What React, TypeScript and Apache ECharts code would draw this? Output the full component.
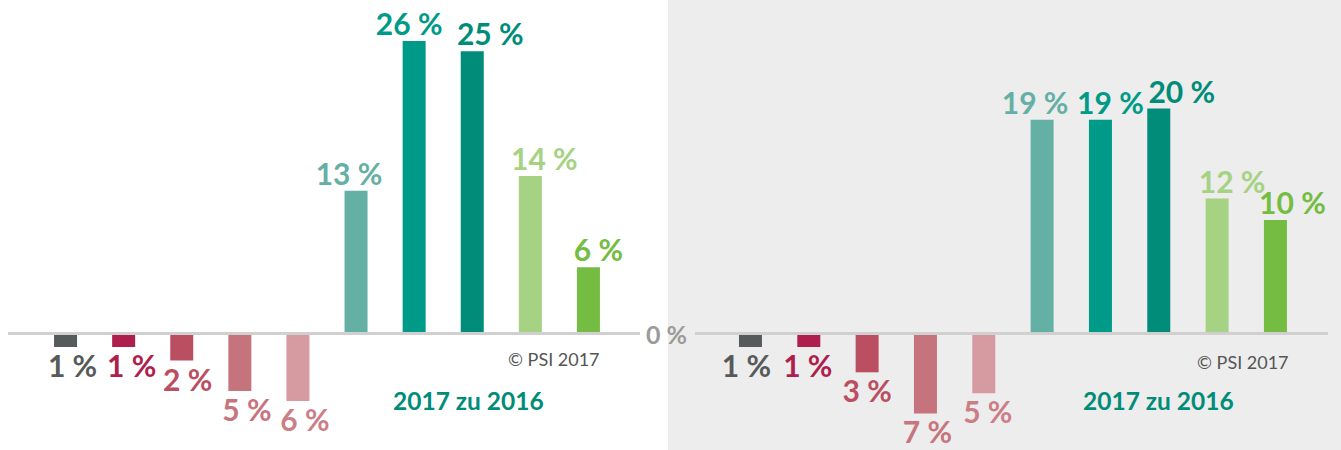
import React, { useEffect, useRef } from "react";
import * as echarts from "echarts";

const categories = ["A", "B", "C", "D", "E", "F", "G", "H", "I", "J"];
const leftValues = [-1.2, -1.2, -2.4, -5.1, -6.0, 12.7, 26.0, 25.1, 14.0, 5.9];
const rightValues = [-1.2, -1.2, -3.45, -7.1, -5.3, 19.0, 19.0, 20.0, 12.0, 10.1];
const barColors = ["#575a5a", "#ae1f4e", "#bb4f62", "#c5737d", "#d69ba0", "#65b0a4", "#009a88", "#008c78", "#a5d283", "#74bd42"];
const labelColors = ["#575a5a", "#ae1f4e", "#bb4f62", "#c8747e", "#cc7e87", "#65b0a4", "#009a88", "#008c78", "#a5d283", "#74bd42"];
const leftLabelDx = [7, 8, 6, 7, 7, -7, -5, 18, 14, 10];
const rightLabelDx = [-4, -1, 0, 2, 4, -7, 10, 23, 15, 17];
const zeroLabel = "0 %";
const copyright = "© PSI 2017";
const subtitle = "2017 zu 2016";

const FONT = "Lato, 'Open Sans', sans-serif";

function buildData(values: number[], dx: number[]) {
  return values.map((v, i) => ({
    value: v,
    itemStyle: { color: barColors[i] },
    label: {
      show: true,
      position: v >= 0 ? "top" : "bottom",
      distance: v >= 0 ? 3 : 3,
      offset: [dx[i], 0],
      color: labelColors[i],
      fontFamily: FONT,
      fontWeight: "bold",
      fontSize: 30,
      formatter: () => Math.round(Math.abs(v)) + " %",
    },
  }));
}

export default function App() {
  const ref = useRef<HTMLDivElement>(null);
  useEffect(() => {
    document.body.style.margin = "0";
    if (!ref.current) return;
    const chart = echarts.init(ref.current, undefined, { renderer: "svg" });
    const yMin = -10;
    const yMax = 28;
    chart.setOption({
      animation: false,
      grid: [
        { left: 36.5, width: 581, top: 18.5, height: 427.5 },
        { left: 721.3, width: 583.3, top: 18.5, height: 427.5 },
      ],
      xAxis: [
        { type: "category", data: categories, gridIndex: 0, show: false },
        { type: "category", data: categories, gridIndex: 1, show: false },
      ],
      yAxis: [
        { type: "value", gridIndex: 0, min: yMin, max: yMax, show: false },
        { type: "value", gridIndex: 1, min: yMin, max: yMax, show: false },
      ],
      graphic: [
        { type: "rect", z: -100, silent: true, shape: { x: 668, y: 0, width: 673, height: 450 }, style: { fill: "#ededed" } },
        { type: "line", z: 100, silent: true, shape: { x1: 8, y1: 333.5, x2: 640, y2: 333.5 }, style: { stroke: "#d0d0d0", lineWidth: 3 } },
        { type: "line", z: 100, silent: true, shape: { x1: 695, y1: 333.5, x2: 1328, y2: 333.5 }, style: { stroke: "#d0d0d0", lineWidth: 3 } },
        { type: "text", z: 100, x: 646, y: 334, style: { text: zeroLabel, fill: "#9b9b9b", font: `bold 25px ${FONT}`, textAlign: "left", textVerticalAlign: "middle", align: "left", verticalAlign: "middle" } },
        { type: "text", z: 100, x: 508, y: 359, style: { text: copyright, fill: "#555555", font: `18px ${FONT}`, textAlign: "left", textVerticalAlign: "middle", align: "left", verticalAlign: "middle" } },
        { type: "text", z: 100, x: 1197, y: 362, style: { text: copyright, fill: "#555555", font: `18px ${FONT}`, textAlign: "left", textVerticalAlign: "middle", align: "left", verticalAlign: "middle" } },
        { type: "text", z: 100, x: 393, y: 400, style: { text: subtitle, fill: "#008c78", font: `bold 24.5px ${FONT}`, textAlign: "left", textVerticalAlign: "middle", align: "left", verticalAlign: "middle" } },
        { type: "text", z: 100, x: 1083, y: 400, style: { text: subtitle, fill: "#008c78", font: `bold 24.5px ${FONT}`, textAlign: "left", textVerticalAlign: "middle", align: "left", verticalAlign: "middle" } },
      ],
      series: [
        { type: "bar", xAxisIndex: 0, yAxisIndex: 0, barWidth: 23, data: buildData(leftValues, leftLabelDx) },
        { type: "bar", xAxisIndex: 1, yAxisIndex: 1, barWidth: 23, data: buildData(rightValues, rightLabelDx) },
      ],
    });
    return () => chart.dispose();
  }, []);
  return <div ref={ref} style={{ width: 1341, height: 450 }} />;
}
